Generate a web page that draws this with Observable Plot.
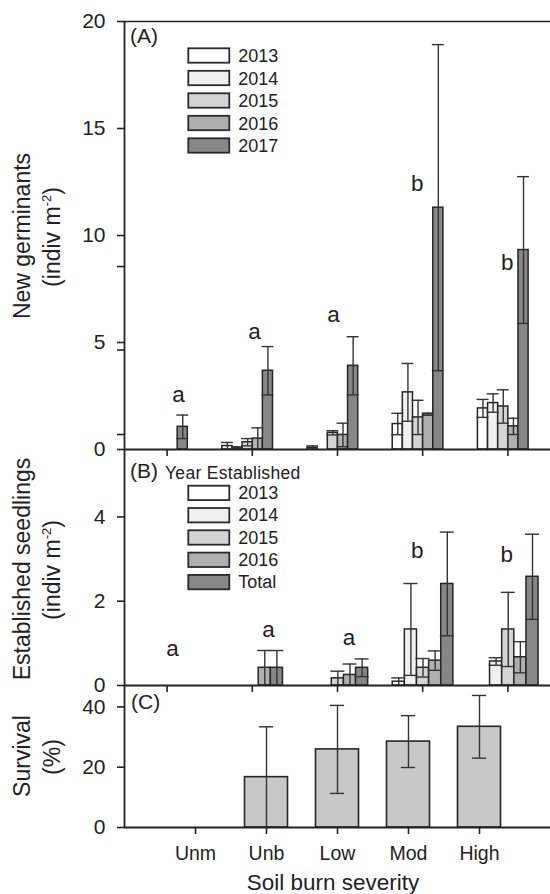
<!DOCTYPE html>
<html>
<head>
<meta charset="utf-8">
<script src="https://cdn.jsdelivr.net/npm/d3@7"></script>
<script src="https://cdn.jsdelivr.net/npm/@observablehq/plot@0.6"></script>
<style>
  html, body { margin: 0; padding: 0; background: #fff; }
  #chart { position: relative; width: 550px; height: 894px; overflow: hidden; background: #fff; }
  #chart > svg { position: absolute; left: 0; top: 0; }
</style>
</head>
<body>
<div id="chart"></div>
<script>
// ---------- shared categories ----------
const severity = ["Unm", "Unb", "Low", "Mod", "High"];

// ---------- Panel A: new germinants (mean, SE) ----------
const yearsA = ["2013", "2014", "2015", "2016", "2017"];
const germ2013 = [0, 0.16, 0.08, 1.19, 1.92];
const germ2014 = [0, 0.09, 0, 2.67, 2.17];
const germ2015 = [0, 0.34, 0.78, 1.50, 2.01];
const germ2016 = [0, 0.51, 0.68, 1.65, 1.08];
const germ2017 = [1.06, 3.68, 3.91, 11.30, 9.32];
const germSe2013 = [0, 0.17, 0.09, 0.50, 0.42];
const germSe2014 = [0, 0.03, 0, 1.35, 0.43];
const germSe2015 = [0, 0.17, 0.10, 0.80, 0.78];
const germSe2016 = [0, 0.50, 0.55, 0.05, 0.38];
const germSe2017 = [0.55, 1.13, 1.36, 7.62, 3.43];
const lettersA = ["a", "a", "a", "b", "b"];
const letterYA = [2.56, 5.5, 6.3, 12.4, 8.73];
const letterShiftA = [0.134, 0.026, -0.047, -0.065, -0.008];
const ticksA = [0, 5, 10, 15, 20];
const minorTicksA = [0.7, 4.65, 8.55];

// ---------- Panel B: established seedlings (mean, SE) ----------
const yearsB = ["2013", "2014", "2015", "2016", "Total"];
const est2013 = [0, 0, 0, 0.09, 0];
const est2014 = [0, 0, 0, 1.33, 0.57];
const est2015 = [0, 0, 0.17, 0.42, 1.33];
const est2016 = [0, 0.42, 0.25, 0.59, 0.67];
const estTotal = [0, 0.42, 0.42, 2.41, 2.58];
const estSe2013 = [0, 0, 0, 0.09, 0];
const estSe2014 = [0, 0, 0, 1.09, 0.09];
const estSe2015 = [0, 0, 0.17, 0.22, 0.88];
const estSe2016 = [0, 0.41, 0.26, 0.23, 0.37];
const estSeTotal = [0, 0.41, 0.21, 1.23, 1.01];
const lettersB = ["a", "a", "a", "b", "b"];
const letterYB = [0.87, 1.33, 1.13, 3.19, 3.10];
const letterShiftB = [0.063, 0.19, 0.135, -0.063, -0.013];
const ticksB = [0, 2, 4];

// ---------- Panel C: survival (%) ----------
const survival = [0, 16.7, 25.9, 28.5, 33.4];
const survivalSe = [0, 16.7, 14.6, 8.6, 10.4];
const ticksC = [0, 20, 40];

// ---------- styling ----------
const fills = ["#ffffff", "#f0f0f0", "#d4d4d4", "#afafaf", "#878787"];
const fillC = "#c8c8c8";
const ink = "#222222";
const font = "'Liberation Sans', Arial, Helvetica, sans-serif";
const intFmt = d => String(d);

function flatten(vals, ses, names) {
  const out = [];
  vals.forEach((arr, j) => arr.forEach((v, i) => out.push({i, j, name: names[j], v, se: ses[j][i]})));
  return out;
}
function letterRows(t, y, s) {
  return t.map((d, i) => ({i, t: d, y: y[i], s: s[i]}));
}

const baseStyle = {fontFamily: font, fontSize: "20px", color: ink, background: "none", overflow: "visible"};

function groupedPanel(o) {
  const start = -0.352;
  const cx = d => d.i + 0.5 + start + o.barW * (d.j + 0.5);
  const bars = o.data.filter(d => d.v > 0);
  const errs = o.data.filter(d => d.se > 0);
  const lows = errs.filter(d => d.v - d.se > o.lowMin);
  const errStyle = {stroke: "#333", strokeWidth: 1.4};
  return Plot.plot({
    width: 550, height: 894,
    marginTop: o.marginTop, marginBottom: o.marginBottom, marginLeft: 124, marginRight: 0,
    style: baseStyle,
    x: {domain: [0, 5]},
    y: {domain: o.yDomain},
    color: {domain: o.names, range: fills},
    marks: [
      Plot.rect(bars, {x1: d => cx(d) - o.barW / 2, x2: d => cx(d) + o.barW / 2, y1: () => 0, y2: "v",
        fill: "name", stroke: "#262626", strokeWidth: 1.5}),
      Plot.ruleX(errs, {x: cx, y1: d => Math.max(0, d.v - d.se), y2: d => d.v + d.se, ...errStyle}),
      Plot.ruleY(errs, {y: d => d.v + d.se, x1: d => cx(d) - o.cap, x2: d => cx(d) + o.cap, ...errStyle}),
      Plot.ruleY(lows, {y: d => d.v - d.se, x1: d => cx(d) - o.cap, x2: d => cx(d) + o.cap, ...errStyle}),
      Plot.text(o.letters, {x: d => d.i + 0.5 + d.s, y: "y", text: "t", fontSize: 22.5, fill: ink}),
      Plot.ruleX([0], {stroke: ink, strokeWidth: 1.8}),
      Plot.ruleY([0], {stroke: ink, strokeWidth: 1.8}),
      ...(o.top != null ? [Plot.ruleY([o.top], {stroke: ink, strokeWidth: 1.5})] : []),
      Plot.axisY({ticks: o.ticks, tickFormat: intFmt, tickSize: 7, tickPadding: 12, fontSize: 21, label: null, strokeWidth: 1.6}),
      ...(o.minor ? [Plot.axisY({ticks: o.minor, tickSize: 7, tickFormat: () => "", label: null, strokeWidth: 1.6})] : []),
      Plot.axisX({ticks: severity.map((_, i) => i + 0.5), tickSize: 7, tickFormat: () => "", label: null, strokeWidth: 1.6})
    ]
  });
}

const chart = document.getElementById("chart");

// Panel A
chart.append(groupedPanel({
  data: flatten([germ2013, germ2014, germ2015, germ2016, germ2017],
                [germSe2013, germSe2014, germSe2015, germSe2016, germSe2017], yearsA),
  names: yearsA, yDomain: [0, 20], ticks: ticksA, minor: minorTicksA, top: 20,
  marginTop: 21, marginBottom: 894 - 449, barW: 0.119, cap: 0.07, lowMin: 0.05,
  letters: letterRows(lettersA, letterYA, letterShiftA)
}));

// Panel B
chart.append(groupedPanel({
  data: flatten([est2013, est2014, est2015, est2016, estTotal],
                [estSe2013, estSe2014, estSe2015, estSe2016, estSeTotal], yearsB),
  names: yearsB, yDomain: [0, 5.6], ticks: ticksB, minor: null, top: null,
  marginTop: 449, marginBottom: 894 - 685, barW: 0.1424, cap: 0.082, lowMin: 0.03,
  letters: letterRows(lettersB, letterYB, letterShiftB)
}));

// Panel C
const dataC = survival.map((v, i) => ({i, v, se: survivalSe[i]}));
const errC = dataC.filter(d => d.se > 0);
const errStyleC = {stroke: "#333", strokeWidth: 1.4};
chart.append(Plot.plot({
  width: 550, height: 894,
  marginTop: 685, marginBottom: 894 - 827, marginLeft: 124, marginRight: 0,
  style: baseStyle,
  x: {domain: [0, 6]},
  y: {domain: [0, 47.1]},
  marks: [
    Plot.rect(dataC.filter(d => d.v > 0), {x1: d => d.i + 1 - 0.303, x2: d => d.i + 1 + 0.303, y1: () => 0, y2: "v",
      fill: fillC, stroke: "#262626", strokeWidth: 1.6}),
    Plot.ruleX(errC, {x: d => d.i + 1, y1: d => Math.max(0, d.v - d.se), y2: d => d.v + d.se, ...errStyleC}),
    Plot.ruleY(errC, {y: d => d.v + d.se, x1: d => d.i + 1 - 0.1, x2: d => d.i + 1 + 0.1, ...errStyleC}),
    Plot.ruleY(errC.filter(d => d.v - d.se > 0.5), {y: d => d.v - d.se, x1: d => d.i + 1 - 0.1, x2: d => d.i + 1 + 0.1, ...errStyleC}),
    Plot.ruleX([0], {stroke: ink, strokeWidth: 1.8}),
    Plot.ruleY([0], {stroke: ink, strokeWidth: 1.8}),
    Plot.axisY({ticks: ticksC, tickFormat: intFmt, tickSize: 7, tickPadding: 12, fontSize: 21, label: null, strokeWidth: 1.6}),
    Plot.axisX({ticks: severity.map((_, i) => i + 1), tickFormat: t => severity[t - 1], tickSize: 7, tickPadding: 12,
      fontSize: 19.5, label: null, strokeWidth: 1.6})
  ]
}));

// ---------- annotations: panel tags, legends, axis titles ----------
const ann = d3.create("svg")
  .attr("width", 550).attr("height", 894)
  .style("font-family", font).style("overflow", "visible");
const addText = (x, y, t, fs, anchor = "start") =>
  ann.append("text").attr("x", x).attr("y", y).attr("font-size", fs).attr("fill", ink)
    .attr("text-anchor", anchor).text(t);

addText(130, 42.6, "(A)", 21);
addText(130, 477.6, "(B)", 21);
addText(165, 478.5, "Year Established", 17.5).attr("letter-spacing", 0.3);
addText(131, 709, "(C)", 21);

function legend(names, boxTop, labelBase, step) {
  names.forEach((n, k) => {
    ann.append("rect").attr("x", 188.3).attr("y", boxTop + step * k).attr("width", 41).attr("height", 14.4)
      .attr("fill", fills[k]).attr("stroke", "#2a2a2a").attr("stroke-width", 1.8);
    addText(238.3, labelBase + step * k, n, 18);
  });
}
legend(yearsA, 48.3, 62.3, 22.5);
legend(yearsB, 485.7, 499, 22.3);

function yTitle(cy, line1, line2, sup, line2rest) {
  ann.append("text").attr("transform", `translate(30,${cy}) rotate(-90)`)
    .attr("text-anchor", "middle").attr("font-size", 23).attr("fill", ink).text(line1);
  const t = ann.append("text").attr("transform", `translate(60,${cy + 1}) rotate(-90)`)
    .attr("text-anchor", "middle").attr("font-size", 23).attr("fill", ink);
  t.append("tspan").text(line2);
  if (sup) {
    t.append("tspan").attr("font-size", 13).attr("dy", -9.5).text(sup);
    t.append("tspan").attr("dy", 9.5).text(line2rest);
  }
}
yTitle(236, "New germinants", "(indiv m", "-2", ")");
yTitle(569, "Established seedlings", "(indiv m", "-2", ")");
yTitle(756, "Survival", "(%)", null, null);

addText(333, 890, "Soil burn severity", 22.5, "middle");

chart.append(ann.node());
</script>
</body>
</html>
